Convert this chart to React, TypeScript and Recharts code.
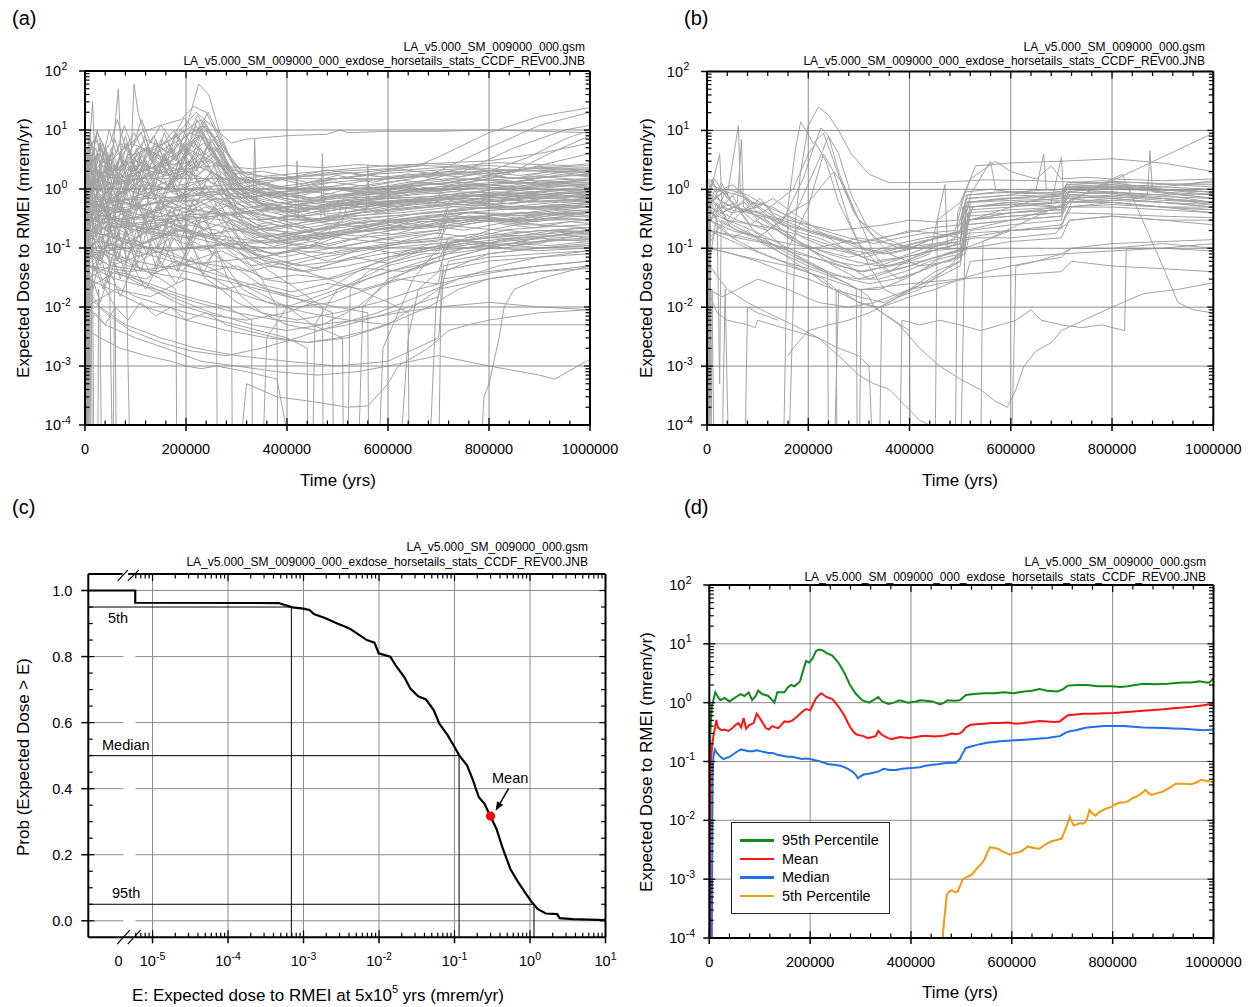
import React from 'react';
import { LineChart, Line, XAxis, YAxis, ReferenceLine, ReferenceDot, Legend } from 'recharts';

const FONT = "'Liberation Sans', Arial, Helvetica, sans-serif";
const TICK_FS = 14.5;
const HORSE = '#a3a3a3';
const GRID = '#8c8c8c';
const AX = { stroke: '#000', strokeWidth: 2 };

// ---------------- axis ticks ----------------
const timeTicks = [0, 200000, 400000, 600000, 800000, 1000000];
const timeGrid = [200000, 400000, 600000, 800000];
const timeMinor: number[] = [];
for (let t = 40000; t < 1000000; t += 40000) if (t % 200000 !== 0) timeMinor.push(t);

const doseTicks = [1e-4, 1e-3, 1e-2, 1e-1, 1, 10, 100];
const doseGrid = [1e-3, 1e-2, 1e-1, 1, 10];
const logMinor = (lo: number, hi: number) => {
  const out: number[] = [];
  for (let e = lo; e < hi; e++) for (let m = 2; m <= 9; m++) out.push(m * Math.pow(10, e));
  return out;
};
const doseMinor = logMinor(-4, 2);

// panel (c) axes
const eMin = 1.41e-6;
const eZero = 3.55e-6; // position of the "0" label left of the axis break
const eTicks = [eZero, 1e-5, 1e-4, 1e-3, 1e-2, 1e-1, 1, 10];
const eMajor = [1e-5, 1e-4, 1e-3, 1e-2, 1e-1, 1, 10];
const eGrid = [1e-5, 1e-4, 1e-3, 1e-2, 1e-1, 1];
const eMinor = [6e-6, 7e-6, 8e-6, 9e-6, ...logMinor(-5, 1)];
const probTicks = [0, 0.2, 0.4, 0.6, 0.8, 1.0];
const probMinor = [0.05, 0.1, 0.15, 0.25, 0.3, 0.35, 0.45, 0.5, 0.55, 0.65, 0.7, 0.75, 0.85, 0.9, 0.95];
const eGapLeft = 4.12e-6;
const eGapRight = 5.94e-6;
const eAxisGap = [4.0e-6, 4.75e-6];
const breakSlashes = [
  [3.46e-6, 1.029, 4.7e-6, 1.0616],
  [4.7e-6, 1.029, 6.58e-6, 1.0616],
  [3.4e-6, -0.0707, 5.0e-6, -0.0283],
  [4.7e-6, -0.0707, 6.93e-6, -0.0283],
];

// ---------------- panel (a) horsetails: [time kyr, dose mrem/yr] ----------------
const aPeaks = [
  [[2, 1e-5], [4, 3], [10, 8], [20, 2], [35, 6], [50, 1.5], [66, 50], [72, 3], [90, 2], [97, 60], [105, 20], [130, 4], [160, 2], [200, 1], [260, 0.6], [320, 0.4], [400, 0.3], [500, 0.3], [600, 0.35], [700, 0.4], [800, 0.5], [900, 0.5], [1000, 0.6]],
  [[3, 1e-5], [5, 2], [15, 30], [22, 1], [40, 5], [60, 2], [80, 8], [100, 2], [140, 6], [180, 3], [205, 15], [225, 60], [245, 40], [265, 10], [290, 3], [330, 1.5], [400, 1], [500, 0.8], [600, 0.9], [700, 1], [800, 1.2], [900, 1.3], [1000, 1.4]],
  [[4, 1e-5], [6, 5], [20, 7], [45, 3], [55, 1e-5], [60, 0.5], [75, 4], [110, 9], [150, 12], [190, 15], [215, 25], [240, 20], [270, 6], [300, 2], [350, 1.2], [400, 1], [500, 1.5], [600, 2], [700, 2.3], [800, 2.5], [900, 2.2], [1000, 2]],
  [[5, 1e-5], [8, 1], [40, 2], [100, 3], [180, 8], [220, 20], [260, 10], [290, 6], [320, 7], [400, 8], [480, 8.5], [505, 10], [520, 9], [600, 9.5], [700, 9.5], [800, 10], [900, 9.5], [1000, 9]],
  [[3, 1e-5], [5, 1.5], [25, 4], [60, 2], [110, 5], [170, 3], [230, 8], [280, 2], [340, 0.6], [450, 0.3], [550, 0.4], [650, 0.5], [750, 0.6], [850, 0.5], [1000, 0.5]],
  [[4, 1e-5], [6, 3], [30, 1], [70, 6], [120, 2], [180, 4], [240, 10], [280, 4], [320, 1.5], [380, 0.8], [480, 0.6], [580, 0.7], [680, 0.9], [780, 1.1], [880, 1], [1000, 1.2]],
  [[6, 1e-5], [9, 1.8], [40, 3], [75, 1], [115, 2.5], [165, 1.8], [215, 6], [265, 2.5], [315, 1], [395, 0.7], [495, 0.5], [595, 0.6], [695, 0.7], [795, 0.6], [895, 0.7], [1000, 0.65]],
  [[4, 1e-5], [6, 4], [25, 9], [50, 3], [90, 6], [140, 4], [190, 7], [235, 12], [275, 5], [310, 2], [370, 1.5], [470, 1.7], [570, 2], [670, 2.5], [770, 2.3], [870, 2], [1000, 2.2]],
  [[3, 1e-5], [5, 1], [40, 2], [100, 4], [160, 6], [200, 10], [230, 15], [255, 8], [280, 3], [310, 1], [360, 0.5], [450, 0.4], [550, 0.5], [650, 0.6], [750, 0.8], [850, 0.7], [1000, 0.8]],
  [[2, 1e-5], [4, 0.4], [50, 1], [110, 2], [170, 3], [210, 7], [240, 12], [265, 5], [295, 1.5], [340, 0.6], [430, 0.3], [530, 0.35], [630, 0.4], [730, 0.5], [830, 0.45], [1000, 0.5]],
  [[4, 1e-5], [6, 2], [30, 5], [70, 2], [120, 7], [170, 4], [205, 9], [245, 7], [275, 2], [300, 0.8], [360, 0.35], [460, 0.2], [560, 0.25], [660, 0.3], [760, 0.32], [860, 0.3], [1000, 0.3]],
];
const aRising = [
  [[5, 1e-5], [8, 0.3], [100, 0.5], [200, 0.8], [300, 1], [400, 1.5], [500, 2], [600, 2.2], [660, 2.5], [700, 3.5], [800, 9], [900, 17], [1000, 24]],
  [[6, 1e-5], [10, 0.4], [150, 0.6], [300, 0.7], [500, 1], [650, 1.5], [700, 2], [800, 5], [900, 12], [1000, 20]],
  [[3, 1e-5], [6, 0.2], [200, 0.3], [400, 0.5], [600, 1], [750, 2], [850, 5], [950, 10], [1000, 12]],
  [[4, 1e-5], [7, 0.5], [200, 1], [400, 1.5], [600, 1.5], [800, 2], [880, 3.5], [950, 7], [1000, 10]],
  [[3, 1e-5], [9, 0.6], [250, 0.8], [500, 1], [700, 1.2], [850, 2], [920, 4], [1000, 8]],
  [[2, 1e-5], [5, 1], [100, 1.5], [300, 1.5], [600, 2.5], [800, 3], [900, 4], [1000, 6]],
  [[2, 1e-5], [6, 0.3], [300, 0.4], [600, 0.8], [800, 1.5], [900, 2.5], [1000, 4]],
];
const aBand = [
  [[1, 1e-5], [3, 0.5], [20, 2], [50, 1], [100, 3], [150, 2], [200, 5], [250, 3], [300, 1], [400, 0.8], [500, 1], [600, 0.8], [700, 1], [800, 1.5], [900, 1.2], [1000, 1.5]],
  [[2, 1e-5], [4, 0.2], [30, 0.5], [80, 1], [130, 0.7], [200, 2], [260, 1.2], [330, 0.5], [420, 0.4], [520, 0.6], [620, 0.5], [720, 0.8], [820, 0.7], [920, 0.9], [1000, 0.8]],
  [[2, 1e-5], [4, 0.05], [40, 0.1], [100, 0.2], [160, 0.15], [220, 0.3], [300, 0.2], [380, 0.15], [460, 0.2], [560, 0.3], [660, 0.25], [760, 0.4], [860, 0.35], [1000, 0.4]],
  [[1, 1e-5], [3, 0.08], [30, 0.15], [90, 0.3], [150, 0.5], [210, 1], [270, 0.6], [340, 0.25], [430, 0.15], [530, 0.2], [630, 0.3], [730, 0.35], [830, 0.3], [930, 0.4], [1000, 0.35]],
  [[3, 1e-5], [5, 0.7], [35, 0.3], [80, 0.6], [140, 0.4], [190, 0.8], [250, 0.5], [310, 0.3], [400, 0.12], [500, 0.1], [600, 0.15], [700, 0.2], [800, 0.3], [900, 0.25], [1000, 0.3]],
  [[2, 1e-5], [4, 1.2], [50, 0.6], [100, 1.5], [160, 1], [230, 3], [290, 1], [360, 0.5], [450, 0.7], [550, 0.9], [650, 1.2], [750, 1.5], [850, 1.3], [950, 1.8], [1000, 1.6]],
  [[3, 1e-5], [6, 0.4], [40, 0.2], [90, 0.1], [140, 0.15], [200, 0.25], [260, 0.2], [340, 0.08], [420, 0.05], [500, 0.06], [600, 0.1], [700, 0.12], [800, 0.15], [900, 0.2], [1000, 0.18]],
  [[1, 1e-5], [2, 2], [20, 1], [60, 0.8], [120, 1.2], [180, 0.9], [240, 1.5], [300, 0.6], [333, 0.6], [336, 7], [340, 0.6], [380, 0.4], [480, 0.5], [580, 0.6], [680, 0.7], [780, 0.8], [880, 0.6], [1000, 0.7]],
  [[5, 1e-5], [8, 0.15], [60, 0.3], [110, 0.25], [170, 0.4], [230, 0.6], [290, 0.3], [360, 0.2], [440, 0.25], [540, 0.35], [640, 0.45], [740, 0.55], [840, 0.5], [940, 0.6], [1000, 0.55]],
  [[2, 1e-5], [4, 0.6], [30, 1.5], [80, 0.8], [130, 2], [190, 1.5], [250, 4], [300, 1.2], [370, 0.7], [460, 1], [560, 1.4], [660, 1.6], [760, 1.8], [860, 1.5], [960, 2], [1000, 1.8]],
  [[3, 1e-5], [5, 0.03], [50, 0.05], [120, 0.08], [200, 0.1], [280, 0.12], [360, 0.1], [450, 0.15], [550, 0.2], [650, 0.3], [750, 0.4], [850, 0.35], [1000, 0.45]],
  [[2, 1e-5], [3, 0.9], [25, 0.5], [70, 0.3], [125, 0.2], [180, 0.3], [240, 0.5], [300, 0.25], [380, 0.12], [470, 0.15], [570, 0.2], [670, 0.28], [770, 0.3], [870, 0.25], [1000, 0.22]],
  [[4, 1e-5], [7, 0.25], [45, 0.6], [95, 0.4], [150, 0.8], [210, 0.5], [270, 0.9], [330, 0.4], [410, 0.3], [467, 0.3], [470, 4], [474, 0.35], [510, 0.35], [610, 0.5], [710, 0.6], [810, 0.9], [910, 0.8], [1000, 1]],
  [[1, 1e-5], [3, 0.12], [35, 0.08], [85, 0.05], [145, 0.04], [205, 0.06], [265, 0.05], [325, 0.04], [405, 0.06], [505, 0.09], [605, 0.12], [705, 0.15], [805, 0.12], [905, 0.1], [1000, 0.11]],
  [[3, 1e-5], [5, 0.35], [55, 0.7], [105, 0.5], [155, 0.3], [215, 0.45], [275, 0.35], [335, 0.2], [415, 0.25], [515, 0.4], [557, 0.45], [560, 2.5], [563, 0.5], [615, 0.6], [715, 0.7], [815, 1], [915, 1.1], [1000, 1.2]],
  [[2, 1e-5], [4, 2.5], [20, 5], [45, 1.5], [85, 3], [135, 1.5], [195, 2], [255, 5], [305, 1.5], [385, 1], [485, 1.3], [585, 1.5], [685, 1.8], [785, 2], [885, 2.2], [1000, 2.3]],
  [[5, 1e-5], [7, 0.07], [60, 0.1], [130, 0.2], [200, 0.35], [270, 0.3], [350, 0.15], [440, 0.1], [540, 0.15], [640, 0.18], [700, 0.2], [720, 0.6], [800, 0.7], [900, 0.8], [1000, 0.9]],
  [[4, 1e-5], [6, 0.5], [30, 0.25], [80, 0.4], [140, 0.6], [200, 0.4], [260, 0.7], [320, 0.5], [400, 0.35], [417, 0.35], [420, 3], [423, 0.3], [500, 0.25], [600, 0.2], [700, 0.25], [800, 0.35], [900, 0.4], [1000, 0.5]],
  [[3, 1e-5], [5, 1], [40, 0.5], [100, 0.3], [160, 0.5], [220, 1], [280, 0.6], [340, 0.3], [420, 0.2], [500, 0.15], [600, 0.12], [700, 0.15], [720, 0.4], [800, 0.5], [900, 0.45], [1000, 0.5]],
  [[2, 1e-5], [4, 0.2], [60, 0.15], [120, 0.12], [180, 0.2], [240, 0.15], [300, 0.1], [380, 0.08], [460, 0.12], [520, 0.4], [600, 0.6], [700, 0.7], [800, 0.8], [900, 0.9], [1000, 1]],
  [[3, 1e-5], [5, 0.25], [30, 0.6], [70, 1.8], [110, 0.9], [160, 1.3], [220, 2.5], [270, 1.6], [330, 0.9], [410, 0.6], [510, 0.7], [610, 0.9], [710, 1.1], [810, 1.3], [910, 1.2], [1000, 1.3]],
  [[2, 1e-5], [4, 0.15], [40, 0.35], [90, 0.2], [150, 0.25], [210, 0.18], [270, 0.14], [330, 0.12], [420, 0.14], [520, 0.18], [620, 0.22], [720, 0.24], [820, 0.2], [920, 0.23], [1000, 0.25]],
  [[3, 1e-5], [4, 0.9], [60, 0.6], [150, 1], [250, 1.5], [330, 1.4], [380, 1.6], [440, 1.3], [500, 1.5], [560, 1.7], [620, 1.5], [680, 1.8], [740, 1.6], [800, 1.9], [860, 1.7], [930, 2], [1000, 1.9]],
  [[2, 1e-5], [3, 0.2], [70, 0.25], [160, 0.3], [260, 0.35], [340, 0.4], [400, 0.5], [460, 0.45], [520, 0.55], [580, 0.6], [640, 0.55], [700, 0.65], [760, 0.7], [820, 0.65], [880, 0.75], [940, 0.7], [1000, 0.8]],
  [[4, 1e-5], [5, 0.1], [80, 0.12], [170, 0.09], [260, 0.11], [340, 0.13], [400, 0.15], [470, 0.18], [540, 0.16], [610, 0.2], [680, 0.22], [750, 0.25], [820, 0.3], [890, 0.28], [960, 0.32], [1000, 0.3]],
  [[1, 1e-5], [2, 0.6], [60, 0.4], [150, 0.6], [250, 0.9], [320, 0.7], [390, 0.9], [460, 1.1], [530, 0.9], [600, 1.1], [670, 1.3], [740, 1.1], [810, 1.2], [880, 1.4], [950, 1.3], [1000, 1.4]],
  [[3, 1e-5], [4, 0.05], [90, 0.04], [180, 0.05], [270, 0.06], [350, 0.07], [420, 0.09], [490, 0.08], [560, 0.1], [630, 0.12], [700, 0.13], [720, 0.25], [790, 0.3], [860, 0.28], [930, 0.33], [1000, 0.35]],
  [[2, 1e-5], [3, 1.5], [70, 1.2], [160, 2], [260, 2.5], [330, 2.2], [400, 2.5], [470, 2.3], [540, 2.6], [610, 2.4], [680, 2.7], [750, 2.5], [820, 2.8], [890, 2.6], [960, 2.5], [1000, 2.7]],
  [[5, 1e-5], [6, 0.3], [100, 0.2], [200, 0.15], [300, 0.2], [370, 0.25], [440, 0.22], [510, 0.28], [520, 0.6], [590, 0.7], [660, 0.65], [730, 0.75], [800, 0.8], [870, 0.78], [940, 0.85], [1000, 0.82]],
  [[3, 1e-5], [4, 0.4], [80, 0.3], [170, 0.5], [260, 0.4], [340, 0.3], [410, 0.35], [480, 0.3], [550, 0.4], [620, 0.45], [690, 0.5], [710, 1.1], [780, 1.2], [850, 1.1], [920, 1.3], [1000, 1.25]],
  [[2, 1e-5], [3, 0.08], [90, 0.1], [190, 0.2], [290, 0.15], [370, 0.12], [440, 0.16], [510, 0.2], [580, 0.25], [650, 0.22], [720, 0.3], [790, 0.35], [860, 0.4], [930, 0.38], [1000, 0.42]],
  [[4, 1e-5], [5, 2], [60, 1.5], [150, 2.5], [240, 3], [320, 1.8], [380, 1.5], [450, 1.7], [520, 1.9], [590, 1.6], [660, 1.8], [730, 2], [800, 1.8], [870, 2.1], [940, 1.9], [1000, 2]],
];
const aWavy = [
  [[2, 1e-5], [3, 0.5], [40, 1.2], [90, 0.6], [140, 1.5], [200, 0.8], [260, 1.8], [320, 0.7], [380, 0.9], [450, 0.7], [520, 1], [590, 0.8], [660, 1.1], [730, 0.9], [800, 1.2], [870, 1], [940, 1.3], [1000, 1.1]],
  [[3, 1e-5], [4, 0.15], [45, 0.35], [100, 0.2], [160, 0.45], [220, 0.25], [280, 0.4], [340, 0.2], [400, 0.25], [460, 0.18], [530, 0.28], [600, 0.22], [670, 0.32], [740, 0.26], [810, 0.36], [880, 0.3], [950, 0.4], [1000, 0.35]],
  [[1, 1e-5], [2, 1], [35, 2.5], [85, 1.2], [135, 3], [195, 1.5], [255, 3.5], [310, 1.3], [370, 1.6], [430, 1.2], [500, 1.7], [570, 1.3], [640, 1.8], [710, 1.4], [780, 1.9], [850, 1.5], [920, 2], [1000, 1.7]],
  [[4, 1e-5], [5, 0.06], [50, 0.12], [110, 0.07], [170, 0.15], [230, 0.09], [290, 0.13], [350, 0.07], [410, 0.09], [480, 0.06], [550, 0.1], [620, 0.08], [690, 0.12], [760, 0.1], [830, 0.14], [900, 0.12], [970, 0.16], [1000, 0.14]],
  [[2, 1e-5], [3, 0.3], [30, 0.7], [80, 0.4], [130, 0.9], [185, 0.5], [245, 1.1], [305, 0.45], [365, 0.55], [425, 0.4], [495, 0.6], [565, 0.45], [635, 0.65], [705, 0.5], [775, 0.7], [845, 0.55], [915, 0.75], [1000, 0.6]],
  [[3, 1e-5], [4, 0.02], [60, 0.04], [120, 0.03], [180, 0.06], [240, 0.04], [300, 0.05], [360, 0.03], [420, 0.035], [490, 0.03], [560, 0.045], [630, 0.04], [700, 0.06], [720, 0.15], [790, 0.18], [860, 0.16], [930, 0.2], [1000, 0.19]],
  [[2, 1e-5], [3, 2], [25, 4], [70, 2], [120, 5], [175, 2.5], [235, 6], [290, 1.8], [350, 2], [410, 1.6], [480, 2.1], [550, 1.7], [620, 2.2], [690, 1.8], [760, 2.3], [830, 1.9], [900, 2.4], [1000, 2.1]],
  [[5, 1e-5], [6, 0.1], [55, 0.2], [115, 0.12], [175, 0.25], [235, 0.15], [295, 0.22], [355, 0.12], [415, 0.15], [485, 0.11], [555, 0.16], [625, 0.13], [695, 0.18], [765, 0.15], [835, 0.2], [905, 0.17], [975, 0.22], [1000, 0.2]],
  [[1, 1e-5], [2, 0.7], [30, 1.6], [75, 0.8], [125, 1.9], [180, 0.9], [240, 2.2], [300, 0.8], [360, 1], [420, 0.75], [490, 1.05], [560, 0.8], [630, 1.1], [700, 0.9], [770, 1.2], [840, 0.95], [910, 1.25], [1000, 1.05]],
  [[3, 1e-5], [4, 0.04], [40, 0.09], [95, 0.05], [150, 0.1], [210, 0.06], [270, 0.09], [330, 0.05], [390, 0.06], [460, 0.045], [530, 0.07], [600, 0.055], [670, 0.08], [700, 0.08], [715, 0.3], [780, 0.35], [850, 0.3], [920, 0.38], [1000, 0.33]],
  [[2, 1e-5], [3, 0.25], [50, 0.5], [110, 0.3], [170, 0.6], [230, 0.35], [290, 0.55], [350, 0.3], [410, 0.35], [470, 0.28], [500, 0.3], [512, 0.7], [580, 0.75], [650, 0.7], [720, 0.8], [790, 0.75], [860, 0.85], [930, 0.8], [1000, 0.9]],
  [[4, 1e-5], [5, 1.4], [35, 3], [80, 1.5], [130, 4], [185, 2], [245, 5], [300, 1.6], [360, 1.2], [420, 1], [490, 1.3], [560, 1.1], [630, 1.4], [700, 1.2], [770, 1.5], [840, 1.3], [910, 1.6], [1000, 1.4]],
  [[2, 1e-5], [3, 0.01], [60, 0.02], [130, 0.015], [200, 0.03], [270, 0.02], [340, 0.025], [410, 0.018], [480, 0.025], [550, 0.02], [620, 0.03], [690, 0.025], [700, 0.025], [712, 0.1], [780, 0.12], [850, 0.11], [920, 0.14], [1000, 0.13]],
  [[3, 1e-5], [4, 0.45], [40, 0.9], [95, 0.5], [150, 1.1], [210, 0.6], [270, 1], [330, 0.5], [390, 0.6], [450, 0.45], [520, 0.65], [590, 0.5], [660, 0.7], [730, 0.55], [800, 0.75], [870, 0.6], [940, 0.8], [1000, 0.7]],
  [[1, 1e-5], [2, 0.12], [45, 0.25], [100, 0.15], [160, 0.3], [220, 0.18], [280, 0.28], [340, 0.15], [400, 0.18], [470, 0.14], [540, 0.2], [610, 0.17], [680, 0.24], [750, 0.2], [820, 0.26], [890, 0.22], [960, 0.28], [1000, 0.26]],
];
const aJagged = [
  [[2, 1e-5], [3, 0.8], [12, 3], [20, 0.6], [32, 2], [45, 0.4], [58, 1.5], [72, 0.5], [88, 2.5], [104, 0.8], [120, 3], [138, 1], [156, 4], [175, 1.5], [195, 6], [215, 3], [235, 9], [255, 4], [275, 1.2], [300, 0.5], [350, 0.3], [420, 0.35], [500, 0.5], [580, 0.4], [660, 0.6], [740, 0.7], [820, 0.6], [900, 0.8], [1000, 0.7]],
  [[1, 1e-5], [2, 0.1], [10, 0.5], [22, 0.15], [36, 0.6], [50, 0.2], [66, 0.8], [82, 0.25], [98, 1], [115, 0.3], [132, 1.2], [150, 0.4], [170, 1.5], [190, 0.6], [210, 2], [232, 1], [255, 2.5], [280, 0.7], [310, 0.25], [360, 0.15], [440, 0.2], [520, 0.25], [600, 0.3], [680, 0.28], [760, 0.35], [840, 0.3], [920, 0.35], [1000, 0.4]],
  [[3, 1e-5], [4, 2], [14, 6], [26, 1.5], [40, 5], [55, 1], [70, 4], [86, 1.2], [102, 5], [120, 2], [140, 7], [160, 2.5], [180, 8], [200, 4], [222, 15], [244, 6], [266, 3], [290, 1], [330, 0.7], [400, 0.9], [480, 1.1], [560, 1], [640, 1.3], [720, 1.5], [800, 1.4], [880, 1.6], [1000, 1.7]],
  [[2, 1e-5], [3, 0.04], [15, 0.1], [30, 0.05], [48, 0.15], [64, 0.06], [80, 0.2], [100, 0.08], [120, 0.25], [142, 0.1], [165, 0.3], [188, 0.12], [210, 0.4], [236, 0.2], [260, 0.35], [290, 0.15], [330, 0.07], [400, 0.05], [470, 0.07], [550, 0.09], [630, 0.12], [710, 0.14], [790, 0.12], [870, 0.15], [1000, 0.17]],
  [[4, 1e-5], [5, 0.3], [16, 1], [28, 0.3], [42, 1.2], [58, 0.4], [74, 1.6], [90, 0.5], [108, 2], [126, 0.7], [146, 2.5], [166, 1], [186, 3], [208, 1.5], [228, 5], [250, 2], [272, 1.5], [300, 0.8], [350, 0.5], [420, 0.4], [490, 0.6], [570, 0.7], [650, 0.9], [730, 0.8], [810, 1], [890, 0.9], [1000, 1.1]],
  [[1, 1e-5], [2, 1.5], [9, 0.7], [19, 2.5], [31, 0.9], [44, 3.5], [60, 1.2], [76, 3], [94, 1], [112, 4], [130, 1.5], [150, 3], [172, 5], [196, 2], [218, 4], [240, 2.5], [264, 1], [290, 0.4], [330, 0.2], [380, 0.15], [450, 0.2], [530, 0.3], [610, 0.35], [690, 0.4], [770, 0.5], [850, 0.45], [930, 0.55], [1000, 0.5]],
  [[3, 1e-5], [4, 0.02], [20, 0.05], [36, 0.02], [54, 0.07], [70, 0.03], [90, 0.1], [110, 0.04], [130, 0.12], [152, 0.05], [176, 0.15], [200, 0.07], [226, 0.2], [252, 0.1], [280, 0.15], [310, 0.08], [360, 0.05], [430, 0.04], [510, 0.06], [590, 0.08], [670, 0.1], [750, 0.12], [830, 0.1], [910, 0.13], [1000, 0.14]],
  [[2, 1e-5], [3, 3], [11, 1], [24, 4], [38, 1.5], [52, 5], [68, 2], [84, 6], [100, 2], [118, 8], [136, 3], [156, 6], [176, 10], [198, 4], [220, 12], [242, 5], [262, 8], [284, 2.5], [310, 1.2], [360, 0.8], [430, 0.6], [510, 0.8], [590, 0.9], [670, 1.2], [750, 1.3], [830, 1.1], [910, 1.4], [1000, 1.5]],
  [[5, 1e-5], [6, 0.5], [18, 0.2], [32, 0.7], [46, 0.25], [62, 0.9], [78, 0.3], [96, 0.6], [114, 1.2], [134, 0.4], [154, 0.8], [174, 1.5], [196, 0.6], [218, 1.2], [240, 0.8], [262, 0.4], [290, 0.2], [330, 0.1], [390, 0.07], [460, 0.09], [540, 0.12], [620, 0.15], [700, 0.18], [720, 0.5], [800, 0.55], [880, 0.6], [1000, 0.65]],
  [[2, 1e-5], [3, 0.25], [13, 0.08], [27, 0.3], [41, 0.1], [57, 0.35], [73, 0.12], [91, 0.4], [109, 0.15], [127, 0.5], [147, 0.2], [168, 0.45], [190, 0.25], [212, 0.6], [236, 0.3], [258, 0.5], [282, 0.25], [310, 0.12], [370, 0.08], [440, 0.1], [520, 0.18], [600, 0.22], [680, 0.25], [760, 0.3], [840, 0.28], [920, 0.32], [1000, 0.3]],
  [[4, 1e-5], [5, 1], [17, 0.35], [30, 1.3], [44, 0.5], [60, 1.8], [76, 0.6], [94, 2.2], [112, 0.8], [132, 1.5], [152, 3], [174, 1.2], [196, 4], [220, 2], [244, 6], [268, 2.5], [292, 1], [330, 0.6], [400, 0.5], [480, 0.7], [560, 0.9], [640, 1.1], [720, 1.3], [800, 1.6], [880, 1.5], [1000, 1.8]],
  [[3, 1e-5], [4, 0.07], [14, 0.2], [28, 0.06], [42, 0.25], [58, 0.08], [74, 0.3], [92, 0.1], [110, 0.2], [130, 0.4], [150, 0.15], [172, 0.5], [194, 0.2], [216, 0.7], [240, 0.35], [264, 0.6], [288, 0.3], [320, 0.15], [380, 0.1], [450, 0.13], [530, 0.2], [610, 0.3], [690, 0.35], [770, 0.4], [850, 0.38], [930, 0.45], [1000, 0.42]],
  [[1, 1e-5], [2, 0.6], [8, 1.8], [18, 0.5], [30, 2], [44, 0.7], [60, 2.5], [78, 0.8], [96, 3], [116, 1], [136, 2], [158, 3.5], [180, 1.5], [202, 5], [226, 2.5], [250, 7], [272, 3], [296, 1.2], [340, 0.6], [410, 0.45], [490, 0.55], [570, 0.65], [650, 0.8], [730, 0.9], [810, 0.85], [890, 1], [1000, 0.95]],
  [[2, 1e-5], [3, 0.15], [12, 0.4], [26, 0.12], [40, 0.5], [56, 0.15], [72, 0.45], [90, 0.18], [108, 0.6], [128, 0.22], [148, 0.7], [170, 0.3], [192, 0.9], [214, 0.4], [238, 1.2], [262, 0.5], [286, 0.8], [310, 0.35], [360, 0.2], [430, 0.18], [510, 0.25], [590, 0.3], [670, 0.4], [750, 0.45], [830, 0.5], [910, 0.48], [1000, 0.55]],
  [[3, 1e-5], [4, 4], [15, 1.5], [29, 6], [43, 2], [59, 7], [75, 2.5], [93, 5], [111, 9], [131, 3], [151, 7], [171, 4], [193, 10], [215, 5], [237, 14], [259, 6], [281, 3], [305, 1.5], [350, 1], [420, 1.2], [500, 1.5], [580, 1.8], [660, 2], [740, 2.2], [820, 2], [900, 2.3], [1000, 2.5]],
  [[5, 1e-5], [6, 0.12], [20, 0.04], [34, 0.15], [50, 0.05], [66, 0.18], [84, 0.06], [102, 0.2], [122, 0.08], [142, 0.25], [164, 0.1], [186, 0.3], [208, 0.12], [232, 0.35], [256, 0.15], [280, 0.1], [310, 0.06], [350, 0.03], [410, 0.025], [480, 0.03], [560, 0.05], [640, 0.08], [720, 0.12], [800, 0.15], [880, 0.14], [1000, 0.16]],
  [[2, 1e-5], [3, 2], [10, 5], [21, 1.2], [35, 4], [49, 1.5], [65, 3], [81, 6], [99, 2], [117, 5], [137, 2.5], [157, 9], [179, 3], [201, 7], [223, 18], [245, 8], [267, 4], [289, 1.8], [320, 0.9], [380, 0.6], [450, 0.5], [530, 0.6], [610, 0.7], [690, 0.75], [770, 0.9], [850, 0.8], [930, 0.95], [1000, 0.9]],
  [[4, 1e-5], [5, 0.45], [16, 1.5], [30, 0.5], [46, 1.1], [62, 0.4], [80, 1.4], [98, 0.5], [118, 1.8], [138, 0.7], [160, 2.2], [182, 0.9], [204, 3], [228, 1.2], [252, 2], [276, 0.9], [300, 0.4], [340, 0.25], [400, 0.3], [470, 0.4], [550, 0.55], [630, 0.6], [710, 0.65], [790, 0.8], [870, 0.75], [950, 0.85], [1000, 0.8]],
  [[1, 1e-5], [2, 0.3], [11, 0.9], [23, 0.3], [37, 0.8], [53, 0.25], [69, 0.7], [87, 0.22], [105, 0.6], [125, 0.2], [145, 0.5], [167, 0.18], [189, 0.45], [211, 0.15], [235, 0.4], [259, 0.12], [285, 0.3], [315, 0.1], [370, 0.05], [440, 0.04], [520, 0.05], [600, 0.07], [680, 0.09], [760, 0.1], [840, 0.12], [920, 0.11], [1000, 0.13]],
  [[3, 1e-5], [4, 1.2], [13, 3], [25, 0.8], [39, 2.5], [53, 0.9], [69, 3.5], [85, 1.2], [103, 4], [121, 1.4], [141, 5], [161, 1.8], [183, 6], [205, 2.5], [229, 8], [253, 3.5], [277, 2], [300, 1], [340, 0.7], [400, 0.55], [470, 0.5], [550, 0.6], [630, 0.65], [710, 0.7], [790, 0.6], [870, 0.7], [1000, 0.75]],
];
const aExtra = [
  [[2, 1e-5], [3, 0.01], [15, 0.03], [30, 0.012], [50, 0.04], [70, 0.015], [95, 0.05], [120, 0.02], [150, 0.06], [180, 0.025], [210, 0.07], [240, 0.03], [270, 0.02], [300, 0.012], [350, 0.008], [420, 0.006], [500, 0.008], [580, 0.012], [660, 0.02], [740, 0.03], [820, 0.04], [900, 0.05], [1000, 0.06]],
  [[3, 1e-5], [4, 5], [12, 2], [22, 8], [34, 3], [48, 10], [62, 4], [78, 12], [94, 5], [112, 15], [130, 6], [150, 12], [172, 7], [196, 16], [220, 9], [244, 20], [266, 8], [290, 3], [320, 1.2], [370, 0.8], [450, 0.7], [550, 0.8], [650, 0.9], [750, 1], [850, 1.1], [1000, 1.2]],
  [[1, 1e-5], [2, 0.5], [10, 0.2], [20, 0.6], [32, 0.18], [46, 0.5], [62, 0.15], [80, 0.45], [100, 0.12], [122, 0.4], [146, 0.1], [170, 0.35], [196, 0.09], [222, 0.3], [250, 0.08], [278, 0.06], [310, 0.04], [360, 0.02], [420, 0.015], [480, 0.02], [540, 0.04], [600, 0.07], [680, 0.1], [760, 0.14], [840, 0.18], [920, 0.2], [1000, 0.22]],
  [[4, 1e-5], [5, 3], [14, 1], [26, 3.5], [38, 1.1], [52, 4], [68, 1.3], [86, 4.5], [104, 1.5], [124, 5], [144, 1.8], [166, 6], [190, 2.2], [214, 7], [238, 3], [262, 5], [286, 2], [310, 0.9], [360, 0.5], [430, 0.35], [510, 0.4], [590, 0.5], [670, 0.6], [750, 0.55], [830, 0.65], [910, 0.6], [1000, 0.7]],
  [[2, 1e-5], [3, 0.06], [16, 0.02], [30, 0.08], [46, 0.025], [64, 0.09], [84, 0.03], [106, 0.1], [130, 0.035], [156, 0.11], [182, 0.04], [208, 0.12], [234, 0.05], [260, 0.09], [286, 0.04], [312, 0.02], [360, 0.012], [420, 0.01], [490, 0.012], [560, 0.02], [630, 0.03], [700, 0.04], [720, 0.12], [800, 0.15], [900, 0.17], [1000, 0.2]],
  [[3, 1e-5], [4, 1.8], [11, 0.6], [24, 2.2], [37, 0.7], [51, 2.6], [67, 0.8], [83, 3], [101, 1], [119, 3.4], [139, 1.2], [159, 3.8], [181, 1.4], [203, 4.5], [227, 1.8], [251, 3], [275, 1.2], [300, 0.6], [340, 0.35], [400, 0.25], [470, 0.3], [540, 0.4], [610, 0.45], [680, 0.5], [750, 0.6], [820, 0.55], [900, 0.65], [1000, 0.6]],
  [[1, 1e-5], [2, 0.2], [9, 0.08], [21, 0.25], [35, 0.07], [49, 0.22], [65, 0.06], [83, 0.2], [101, 0.05], [121, 0.18], [141, 0.045], [163, 0.16], [185, 0.04], [209, 0.15], [233, 0.035], [259, 0.1], [283, 0.03], [310, 0.015], [350, 0.008], [400, 0.005], [460, 0.004], [520, 0.005], [580, 0.007], [640, 0.01], [700, 0.015], [710, 0.05], [800, 0.07], [900, 0.08], [1000, 0.09]],
  [[5, 1e-5], [6, 8], [13, 3], [24, 10], [36, 4], [50, 6], [64, 15], [80, 5], [98, 9], [116, 4], [136, 8], [158, 3], [180, 9], [204, 4], [226, 11], [248, 5], [270, 2.5], [296, 1.2], [330, 0.7], [390, 0.5], [460, 0.45], [540, 0.5], [620, 0.6], [700, 0.7], [780, 0.8], [860, 0.75], [940, 0.85], [1000, 0.8]],
  [[2, 1e-5], [3, 0.9], [12, 0.35], [25, 1], [39, 0.4], [54, 1.1], [70, 0.4], [88, 1.2], [106, 0.45], [126, 1.3], [146, 0.5], [168, 1.4], [190, 0.6], [214, 1.8], [238, 0.8], [262, 1.4], [286, 0.6], [312, 0.3], [360, 0.18], [430, 0.15], [510, 0.2], [590, 0.28], [670, 0.35], [750, 0.4], [830, 0.45], [910, 0.5], [1000, 0.55]],
  [[3, 1e-5], [4, 0.004], [20, 0.008], [40, 0.005], [60, 0.01], [85, 0.006], [110, 0.012], [140, 0.007], [170, 0.01], [200, 0.006], [240, 0.008], [280, 0.005], [320, 0.004], [380, 0.003], [440, 0.0025], [500, 0.003], [560, 0.004], [620, 0.006], [680, 0.01], [740, 0.02], [800, 0.03], [900, 0.04], [1000, 0.045]],
  [[2, 1e-5], [4, 0.1], [100, 0.06], [200, 0.04], [300, 0.025], [400, 0.015], [500, 0.01], [560, 0.008], [562, 1e-5]],
  [[3, 1e-5], [5, 0.3], [150, 0.2], [300, 0.1], [400, 0.05], [480, 0.03], [540, 0.02], [600, 0.012], [640, 0.008], [642, 1e-5]],
  [[2, 1e-5], [4, 0.05], [100, 0.03], [200, 0.015], [280, 0.01], [330, 0.006], [332, 1e-5]],
  [[4, 1e-5], [6, 0.15], [120, 0.08], [240, 0.04], [360, 0.02], [440, 0.012], [490, 0.008], [492, 1e-5]],
  [[520, 1e-5], [525, 0.02], [560, 0.04], [650, 0.08], [750, 0.12], [850, 0.15], [1000, 0.18]],
  [[700, 1e-5], [705, 0.02], [720, 0.06], [800, 0.08], [900, 0.1], [1000, 0.11]],
];
const aLow = [
  [[3, 1e-5], [5, 0.02], [30, 0.01], [80, 0.005], [150, 0.003], [220, 0.002], [300, 0.0015], [400, 0.0012], [500, 0.001], [600, 0.0012], [700, 0.003], [710, 0.03], [800, 0.04], [900, 0.05], [1000, 0.06]],
  [[2, 1e-5], [4, 0.01], [40, 0.005], [100, 0.003], [160, 0.002], [230, 0.0012], [300, 0.001], [380, 0.0008], [460, 0.0007], [540, 0.0008], [600, 0.001], [700, 0.0015], [800, 0.001], [900, 0.0007], [930, 0.0006], [1000, 0.0013]],
  [[3, 1e-5], [5, 0.03], [50, 0.02], [120, 0.01], [200, 0.006], [280, 0.004], [360, 0.003], [440, 0.0025], [520, 0.003], [600, 0.005], [650, 0.01], [700, 0.02], [800, 0.03], [900, 0.04], [1000, 0.05]],
  [[4, 1e-5], [6, 0.05], [60, 0.03], [140, 0.02], [220, 0.012], [300, 0.008], [380, 0.006], [460, 0.005], [540, 0.006], [620, 0.008], [700, 0.01], [800, 0.012], [900, 0.01], [1000, 0.009]],
  [[2, 1e-5], [4, 0.08], [50, 0.05], [120, 0.04], [200, 0.03], [280, 0.02], [360, 0.012], [440, 0.008], [520, 0.006], [600, 0.005], [680, 0.005], [760, 0.005], [850, 0.005], [1000, 0.005]],
  [[5, 1e-5], [7, 0.015], [40, 0.008], [90, 0.004], [150, 0.0025], [210, 0.0018], [280, 0.0015], [350, 0.002], [420, 0.003], [500, 0.005], [580, 0.008], [660, 0.015], [740, 0.03], [820, 0.05], [900, 0.07], [1000, 0.09]],
  [[3, 1e-5], [5, 0.004], [30, 0.003], [70, 0.002], [120, 0.0015], [170, 0.0012], [200, 0.001], [230, 0.0009], [260, 0.001], [320, 0.0008], [380, 0.0006], [420, 1e-5]],
  [[300, 1e-5], [320, 0.0005], [380, 0.0003], [450, 0.00025], [520, 0.0002], [560, 0.00021], [600, 0.0005], [620, 0.001], [680, 0.002], [720, 0.004], [760, 0.005], [800, 0.006], [900, 0.008], [1000, 0.009]],
  [[2, 1e-5], [4, 0.2], [50, 0.06], [100, 0.03], [170, 0.015], [250, 0.008], [330, 0.005], [400, 0.004], [470, 0.005], [540, 0.01], [610, 0.03], [680, 0.06], [750, 0.1], [850, 0.12], [1000, 0.15]],
  [[6, 1e-5], [8, 0.1], [60, 0.04], [130, 0.02], [200, 0.01], [260, 0.007], [320, 0.006], [400, 0.008], [480, 0.015], [560, 0.03], [640, 0.05], [720, 0.08], [800, 0.1], [900, 0.09], [1000, 0.1]],
];
const aDrops = [
  [[2, 1e-5], [4, 0.3], [50, 0.1], [100, 0.05], [150, 0.03], [180, 0.02], [182, 1e-5]],
  [[3, 1e-5], [5, 0.5], [60, 0.3], [120, 0.2], [200, 0.15], [260, 0.08], [262, 1e-5]],
  [[4, 1e-5], [6, 0.15], [40, 0.02], [60, 0.01], [62, 1e-5]],
  [[2, 1e-5], [4, 1], [30, 0.5], [80, 0.2], [90, 1e-5]],
  [[5, 1e-5], [7, 0.8], [100, 0.5], [200, 0.3], [300, 0.1], [350, 0.03], [380, 0.01], [382, 1e-5]],
  [[3, 1e-5], [6, 0.04], [100, 0.015], [200, 0.008], [300, 0.005], [400, 0.003], [440, 0.002], [442, 1e-5]],
  [[2, 1e-5], [4, 0.6], [150, 0.3], [250, 0.15], [350, 0.05], [420, 0.02], [470, 0.01], [472, 1e-5]],
  [[3, 1e-5], [5, 0.2], [120, 0.1], [240, 0.05], [330, 0.02], [400, 0.01], [450, 0.005], [510, 0.003], [512, 1e-5]],
  [[10, 1e-5], [12, 0.03], [15, 1e-5]],
  [[25, 1e-5], [27, 0.02], [30, 0.005], [33, 1e-5]],
  [[8, 1e-5], [10, 10], [14, 0.5], [18, 1e-5]],
  [[3, 1e-5], [5, 0.3], [70, 0.15], [150, 0.08], [230, 0.04], [290, 0.02], [292, 1e-5]],
];
const aLate = [
  [[450, 1e-5], [455, 0.005], [500, 0.02], [600, 0.05], [700, 0.08], [800, 0.12], [900, 0.15], [1000, 0.2]],
  [[540, 1e-5], [550, 0.01], [600, 0.03], [700, 0.06], [800, 0.1], [900, 0.15], [1000, 0.2]],
  [[620, 1e-5], [640, 0.003], [660, 0.02], [700, 0.04], [800, 0.06], [900, 0.07], [1000, 0.08]],
  [[680, 1e-5], [695, 0.01], [710, 0.04], [800, 0.08], [900, 0.1], [1000, 0.12]],
  [[780, 1e-5], [790, 0.0003], [800, 0.0005], [820, 0.003], [830, 0.01], [850, 0.02], [900, 0.03], [1000, 0.05]],
  [[580, 1e-5], [590, 0.002], [610, 0.005], [650, 0.03], [700, 0.1], [800, 0.2], [900, 0.3], [1000, 0.4]],
  [[350, 1e-5], [360, 0.003], [400, 0.01], [500, 0.02], [600, 0.04], [700, 0.06], [800, 0.1], [900, 0.15], [1000, 0.2]],
];

// ---------------- panel (b) horsetails ----------------
const bHumps = [
  [[160, 1e-5], [175, 0.3], [185, 2], [200, 12], [220, 25], [240, 18], [260, 10], [285, 4], [320, 1.8], [360, 1.3], [450, 1.3], [550, 1.45], [650, 1.4], [750, 1.3], [850, 1.3], [950, 1.2], [1000, 1.2]],
  [[150, 1e-5], [160, 0.5], [175, 5], [185, 14], [195, 10], [210, 6], [230, 9], [245, 4], [270, 1], [300, 0.3], [350, 0.15], [400, 0.1], [450, 0.15], [500, 0.2], [510, 0.6], [600, 0.7], [700, 0.8], [710, 1.2], [800, 1.1], [900, 0.9], [1000, 0.8]],
  [[3, 1e-5], [5, 0.3], [50, 0.2], [100, 0.15], [150, 0.3], [190, 1.5], [210, 5], [225, 11], [240, 8], [260, 2], [290, 0.4], [330, 0.15], [380, 0.1], [450, 0.12], [508, 0.15], [512, 0.8], [600, 0.9], [700, 1], [800, 1.1], [900, 0.9], [1000, 0.7]],
  [[2, 1e-5], [4, 0.5], [60, 0.3], [120, 0.2], [180, 0.5], [220, 3], [240, 8], [260, 4], [285, 0.8], [320, 0.2], [360, 0.08], [420, 0.05], [480, 0.06], [510, 0.1], [520, 0.5], [600, 0.6], [700, 0.7], [720, 1], [800, 1.2], [900, 1], [1000, 0.9]],
  [[4, 1e-5], [6, 0.8], [50, 0.5], [110, 0.4], [170, 1], [200, 4], [215, 6], [235, 3], [260, 0.6], [300, 0.12], [340, 0.05], [380, 0.03], [420, 0.04], [470, 0.08], [510, 0.1], [515, 0.4], [600, 0.45], [700, 0.5], [710, 0.7], [800, 0.6], [900, 0.5], [1000, 0.5]],
  [[3, 1e-5], [5, 0.2], [80, 0.15], [160, 0.1], [200, 0.5], [230, 4], [250, 2], [280, 0.3], [320, 0.05], [350, 0.02], [380, 0.015], [420, 0.02], [480, 0.05], [510, 0.1], [600, 0.2], [700, 0.25], [720, 0.6], [800, 0.6], [900, 0.5], [1000, 0.45]],
  [[2, 1e-5], [4, 1], [30, 0.6], [80, 0.4], [140, 0.3], [200, 0.6], [250, 2], [270, 1.2], [300, 0.3], [330, 0.08], [360, 0.04], [400, 0.05], [450, 0.07], [505, 0.1], [510, 0.3], [600, 0.35], [700, 0.4], [705, 1], [800, 0.9], [900, 0.8], [1000, 0.6]],
];
const bEarly = [
  [[2, 1e-5], [4, 1.5], [20, 1], [40, 0.8], [62, 12], [66, 0.8], [100, 0.5], [150, 0.2], [200, 0.1], [250, 0.06], [300, 0.05], [350, 0.06], [420, 0.08], [500, 0.12], [510, 0.6], [600, 0.7], [700, 0.65], [710, 1.2], [800, 1.3], [900, 1], [1000, 0.9]],
  [[3, 1e-5], [5, 0.8], [25, 4], [30, 0.5], [60, 0.6], [68, 7], [72, 0.5], [110, 0.3], [160, 0.15], [220, 0.08], [280, 0.05], [320, 0.03], [360, 0.04], [420, 0.08], [490, 0.15], [512, 0.7], [600, 0.8], [700, 0.75], [712, 1], [800, 1.05], [900, 1], [1000, 0.8]],
  [[2, 1e-5], [3, 0.3], [30, 0.5], [70, 0.4], [110, 0.6], [140, 0.3], [190, 0.15], [240, 0.1], [290, 0.08], [330, 0.06], [380, 0.07], [430, 0.1], [480, 0.12], [515, 0.3], [600, 0.4], [700, 0.45], [710, 0.7], [800, 0.8], [900, 0.7], [1000, 0.6]],
  [[4, 1e-5], [6, 1.2], [40, 0.9], [80, 0.7], [120, 0.4], [160, 0.25], [200, 0.2], [250, 0.15], [300, 0.1], [350, 0.08], [400, 0.1], [450, 0.15], [505, 0.2], [520, 0.8], [560, 3], [570, 1], [600, 0.9], [700, 0.8], [720, 1.3], [800, 1.2], [900, 1.1], [1000, 1]],
  [[3, 1e-5], [5, 0.15], [40, 0.3], [90, 0.2], [140, 0.1], [190, 0.06], [240, 0.04], [280, 0.03], [320, 0.025], [370, 0.03], [420, 0.04], [470, 0.06], [510, 0.08], [520, 0.2], [600, 0.25], [700, 0.3], [705, 0.5], [800, 0.55], [900, 0.5], [1000, 0.45]],
  [[2, 1e-5], [4, 0.05], [20, 0.4], [50, 0.25], [100, 0.15], [150, 0.08], [200, 0.04], [250, 0.02], [300, 0.012], [340, 0.01], [380, 0.015], [440, 0.03], [500, 0.06], [512, 0.15], [600, 0.2], [700, 0.22], [720, 0.3], [800, 0.35], [900, 0.3], [1000, 0.3]],
  [[5, 1e-5], [7, 0.6], [50, 0.4], [100, 0.5], [130, 0.7], [170, 0.4], [220, 0.2], [270, 0.1], [310, 0.07], [360, 0.09], [410, 0.12], [460, 0.15], [500, 0.18], [520, 0.7], [600, 0.8], [650, 1], [665, 4], [670, 1], [700, 0.9], [720, 1.1], [800, 1], [900, 0.95], [1000, 1]],
  [[3, 1e-5], [5, 0.2], [60, 0.15], [120, 0.12], [180, 0.08], [240, 0.06], [300, 0.04], [360, 0.05], [420, 0.06], [480, 0.08], [520, 0.1], [600, 0.13], [700, 0.15], [715, 0.3], [800, 0.35], [900, 0.3], [1000, 0.25]],
  [[2, 1e-5], [4, 0.8], [30, 0.4], [75, 0.6], [100, 0.3], [130, 0.15], [170, 0.08], [210, 0.05], [260, 0.03], [300, 0.02], [340, 0.02], [390, 0.03], [440, 0.05], [500, 0.07], [515, 0.25], [600, 0.3], [700, 0.35], [710, 0.8], [800, 0.9], [870, 0.8], [875, 4.5], [880, 0.9], [1000, 0.7]],
  [[4, 1e-5], [6, 0.1], [50, 0.08], [100, 0.06], [150, 0.04], [200, 0.03], [250, 0.02], [300, 0.015], [350, 0.012], [400, 0.02], [450, 0.04], [500, 0.06], [515, 0.3], [600, 0.4], [700, 0.5], [710, 0.9], [800, 1.1], [900, 1.2], [1000, 1.3]],
  [[3, 1e-5], [5, 0.4], [40, 0.3], [90, 0.25], [150, 0.2], [200, 0.15], [260, 0.1], [310, 0.07], [350, 0.05], [400, 0.06], [440, 0.08], [470, 1.2], [475, 0.1], [510, 0.15], [520, 0.6], [600, 0.65], [680, 0.6], [700, 3.5], [705, 0.6], [800, 0.7], [900, 0.6], [1000, 0.5]],
  [[1, 1e-5], [3, 0.5], [20, 0.3], [60, 0.2], [110, 0.15], [160, 0.12], [210, 0.1], [260, 0.12], [300, 0.15], [360, 0.12], [420, 0.1], [480, 0.12], [530, 0.15], [600, 0.15], [690, 0.18], [720, 0.5], [800, 0.5], [900, 0.45], [1000, 0.4]],
  [[2, 1e-5], [4, 0.3], [50, 0.5], [100, 0.4], [150, 0.3], [200, 0.2], [250, 0.15], [300, 0.12], [350, 0.15], [400, 0.2], [450, 0.18], [500, 0.15], [520, 0.3], [600, 0.5], [660, 0.7], [700, 0.6], [720, 1], [800, 0.9], [900, 0.8], [1000, 0.85]],
  [[5, 1e-5], [7, 0.6], [40, 1], [80, 0.8], [120, 0.5], [180, 0.3], [230, 0.2], [280, 0.15], [330, 0.12], [380, 0.15], [430, 0.18], [490, 0.2], [510, 0.9], [560, 1], [600, 0.9], [700, 0.85], [710, 1.1], [800, 1], [900, 1.1], [1000, 1.4]],
  [[3, 1e-5], [5, 1], [15, 1.5], [40, 0.7], [90, 0.3], [140, 0.2], [190, 0.12], [240, 0.08], [290, 0.06], [340, 0.05], [390, 0.07], [440, 0.09], [500, 0.1], [505, 0.5], [600, 0.55], [700, 0.6], [710, 0.9], [800, 0.85], [900, 0.7], [1000, 0.55]],
  [[2, 1e-5], [4, 0.6], [30, 0.9], [60, 0.5], [100, 0.35], [150, 0.2], [200, 0.1], [250, 0.05], [300, 0.03], [340, 0.03], [390, 0.04], [440, 0.06], [500, 0.08], [510, 0.25], [600, 0.3], [700, 0.35], [710, 0.5], [800, 0.6], [900, 0.5], [1000, 0.4]],
  [[1, 1e-5], [2, 0.8], [10, 1.5], [20, 0.9], [50, 1.2], [90, 0.6], [130, 0.5], [170, 0.3], [210, 0.2], [260, 0.15], [310, 0.1], [360, 0.08], [410, 0.1], [460, 0.12], [500, 0.13], [515, 0.5], [600, 0.55], [700, 0.5], [715, 0.8], [800, 0.75], [900, 0.65], [1000, 0.6]],
  [[2, 1e-5], [3, 0.4], [15, 1], [30, 0.5], [50, 0.8], [70, 0.4], [90, 0.6], [120, 0.35], [150, 0.25], [190, 0.2], [240, 0.15], [290, 0.12], [340, 0.15], [390, 0.18], [440, 0.22], [500, 0.25], [515, 0.6], [580, 0.7], [640, 0.75], [700, 0.7], [712, 1.1], [780, 1.15], [850, 1.05], [920, 0.95], [1000, 0.9]],
  [[3, 1e-5], [4, 0.25], [20, 0.6], [40, 0.3], [60, 0.5], [85, 0.25], [110, 0.35], [140, 0.2], [180, 0.12], [230, 0.09], [280, 0.07], [330, 0.09], [380, 0.12], [430, 0.15], [480, 0.17], [510, 0.2], [520, 0.45], [600, 0.5], [660, 0.55], [700, 0.5], [715, 0.75], [800, 0.7], [900, 0.6], [1000, 0.55]],
  [[1, 1e-5], [2, 1], [12, 0.6], [28, 1.3], [45, 0.7], [65, 1], [85, 0.5], [105, 0.7], [130, 0.4], [160, 0.3], [200, 0.25], [250, 0.2], [300, 0.22], [350, 0.25], [400, 0.3], [450, 0.28], [500, 0.3], [515, 0.8], [570, 0.9], [630, 0.85], [700, 0.9], [712, 1.3], [780, 1.4], [850, 1.3], [920, 1.2], [1000, 1.1]],
  [[4, 1e-5], [5, 0.12], [25, 0.25], [50, 0.15], [80, 0.2], [110, 0.12], [150, 0.08], [200, 0.05], [250, 0.035], [300, 0.03], [350, 0.04], [400, 0.05], [450, 0.07], [500, 0.09], [515, 0.18], [600, 0.2], [700, 0.22], [710, 0.4], [800, 0.38], [900, 0.35], [1000, 0.33]],
  [[2, 1e-5], [3, 0.7], [18, 0.4], [36, 0.9], [55, 0.5], [78, 0.7], [100, 0.4], [130, 0.3], [170, 0.2], [220, 0.15], [270, 0.1], [320, 0.08], [370, 0.1], [420, 0.13], [470, 0.16], [510, 0.2], [525, 0.5], [590, 0.6], [650, 0.55], [705, 0.6], [715, 0.9], [800, 0.85], [900, 0.75], [1000, 0.7]],
  [[3, 1e-5], [4, 0.35], [22, 0.5], [44, 0.25], [66, 0.4], [92, 0.2], [120, 0.15], [160, 0.1], [210, 0.07], [260, 0.05], [310, 0.04], [360, 0.05], [410, 0.07], [460, 0.1], [505, 0.12], [512, 0.35], [600, 0.4], [700, 0.45], [708, 0.6], [800, 0.65], [900, 0.6], [1000, 0.5]],
];
const bLow = [
  [[5, 1e-5], [7, 0.015], [20, 0.008], [40, 0.006], [60, 0.0055], [80, 0.005], [95, 0.0045], [100, 0.006], [130, 0.005], [170, 0.004], [220, 0.003], [260, 0.002], [300, 0.0015], [320, 0.001], [330, 1e-5]],
  [[3, 1e-5], [5, 0.05], [40, 0.02], [80, 0.012], [120, 0.008], [170, 0.005], [220, 0.003], [260, 0.0015], [300, 0.0007], [330, 0.0005], [360, 0.0004], [400, 0.00018], [420, 0.00012], [440, 0.0001], [445, 1e-5]],
  [[250, 1e-5], [260, 0.02], [300, 0.012], [330, 0.01], [380, 0.005], [420, 0.002], [460, 0.001], [500, 0.0006], [540, 0.0004], [570, 0.00025], [593, 0.0002], [610, 0.0004], [626, 0.001], [650, 0.0018], [680, 0.0025], [700, 0.004], [744, 0.006], [800, 0.01], [862, 0.017], [930, 0.02], [1000, 0.026]],
  [[380, 1e-5], [385, 0.006], [420, 0.005], [460, 0.006], [500, 0.005], [540, 0.004], [580, 0.005], [610, 0.006], [640, 0.009], [660, 0.006], [700, 0.005], [740, 0.0045], [780, 0.005], [825, 0.004], [828, 0.1], [900, 0.1], [1000, 0.09]],
  [[340, 1e-5], [345, 0.01], [400, 0.015], [450, 0.02], [500, 0.03], [550, 0.04], [600, 0.05], [650, 0.06], [700, 0.07], [720, 0.1], [800, 0.1], [900, 0.12], [1000, 0.1]],
  [[500, 1e-5], [510, 0.2], [600, 0.3], [700, 0.5], [760, 1], [800, 1.5], [820, 1.8], [860, 0.3], [900, 0.05], [930, 0.012], [960, 0.009], [1000, 0.008]],
  [[300, 1e-5], [305, 0.02], [400, 0.025], [500, 0.03], [600, 0.035], [700, 0.04], [720, 0.06], [800, 0.05], [900, 0.045], [1000, 0.04]],
  [[2, 1e-5], [4, 0.02], [30, 0.015], [60, 0.02], [100, 0.03], [160, 0.02], [220, 0.012], [280, 0.01], [330, 0.012], [400, 0.02], [460, 0.025], [510, 0.03], [520, 0.06], [600, 0.07], [700, 0.08], [720, 0.1], [800, 0.12], [900, 0.13], [1000, 0.14]],
  [[160, 0.0015], [170, 0.002], [200, 0.004], [240, 0.005], [280, 0.006], [320, 0.008], [360, 0.012], [400, 0.02], [450, 0.03], [500, 0.05], [515, 0.3], [600, 0.35], [700, 0.4], [720, 0.7], [800, 0.75], [900, 0.7], [1000, 0.6]],
  [[600, 1e-5], [610, 0.05], [650, 0.06], [700, 0.08], [800, 0.09], [900, 0.1], [1000, 0.12]],
];
const bDrops = [
  [[3, 1e-5], [5, 0.5], [20, 0.3], [25, 0.0005], [28, 0.3], [60, 0.2], [100, 0.15], [150, 0.1], [200, 0.06], [238, 0.04], [240, 1e-5]],
  [[4, 1e-5], [6, 0.3], [50, 0.15], [110, 0.08], [170, 0.05], [230, 0.03], [255, 0.02], [257, 1e-5]],
  [[2, 1e-5], [4, 0.2], [80, 0.1], [150, 0.06], [220, 0.04], [280, 0.025], [295, 0.02], [297, 1e-5]],
  [[3, 1e-5], [5, 0.1], [80, 0.07], [160, 0.05], [240, 0.03], [300, 0.02], [320, 0.015], [330, 0.01], [400, 0.004], [402, 1e-5]],
  [[8, 1e-5], [10, 0.02], [13, 0.0001], [14, 1e-5]],
  [[30, 1e-5], [32, 0.0004], [36, 0.02], [40, 0.0003], [45, 1e-5]],
  [[75, 1e-5], [77, 0.00035], [80, 0.01], [100, 0.008], [120, 0.007], [140, 0.006]],
];
const bUpper = [
  [[450, 1e-5], [455, 0.3], [500, 0.6], [520, 1.5], [570, 3], [600, 2], [650, 1.5], [680, 2.5], [700, 1.5], [750, 1.6], [800, 1.5], [900, 1.4], [1000, 1.5]],
  [[490, 1e-5], [495, 0.4], [530, 2.5], [600, 2.8], [700, 3], [800, 3.3], [900, 2.8], [1000, 2]],
  [[540, 1e-5], [545, 0.13], [1000, 9]],
];

// ---------------- panel (c) CCDF ----------------
const ccdfE = [eMin, 5.9e-6, 5.9e-6, 4.7e-4, 7.1e-4, 1.0e-3, 1.2e-3, 1.37e-3, 1.96e-3, 2.8e-3, 4.0e-3, 5.1e-3, 6.9e-3, 8.7e-3, 9.9e-3, 1.41e-2, 1.7e-2, 2.15e-2, 2.6e-2, 3.3e-2, 4.2e-2, 5.3e-2, 6.3e-2, 8.1e-2, 0.1, 0.1155, 0.147, 0.176, 0.21, 0.25, 0.3, 0.36, 0.43, 0.55, 0.7, 0.89, 1.06, 1.27, 1.62, 2.3, 2.46, 3.7, 10];
const ccdfP = [1.0, 1.0, 0.963, 0.962, 0.949, 0.945, 0.941, 0.929, 0.916, 0.9, 0.886, 0.87, 0.85, 0.842, 0.81, 0.8, 0.77, 0.739, 0.703, 0.68, 0.67, 0.638, 0.597, 0.562, 0.526, 0.501, 0.47, 0.425, 0.374, 0.354, 0.316, 0.278, 0.223, 0.157, 0.116, 0.081, 0.056, 0.035, 0.022, 0.02, 0.008, 0.005, 0.002];
const pctLevels = [0.95, 0.5, 0.05];
const pctDoses = [6.9e-4, 0.115, 1.13];
const meanDose = 0.3;
const meanProb = 0.317;
const meanArrow = [[0.52, 0.4], [0.35, 0.333]];

// ---------------- panel (d) statistics: [time kyr, dose] ----------------
const d95 = [[0.5, 0.0001], [2, 0.3], [5, 0.9], [8, 1.1], [12, 1.5], [16, 1.3], [22, 1.1], [30, 1.2], [40, 1.05], [50, 1.2], [62, 1.4], [70, 1.3], [78, 1.5], [85, 1.1], [92, 1.3], [97, 1.6], [105, 1.4], [117, 1.3], [125, 1.1], [129, 1.0], [135, 1.5], [149, 1.5], [155, 1.8], [162, 2.0], [169, 1.9], [180, 2.3], [186, 3.5], [192, 5.1], [198, 4.8], [204, 5.5], [212, 7.6], [218, 8.0], [224, 7.8], [232, 7.0], [244, 6.3], [256, 4.8], [268, 3.2], [279, 2.0], [291, 1.4], [303, 1.1], [317, 1.0], [325, 1.1], [335, 1.25], [343, 1.05], [355, 0.95], [366, 1.0], [378, 1.1], [394, 1.0], [410, 1.05], [418, 1.1], [430, 1.08], [442, 1.05], [458, 0.93], [466, 1.0], [473, 1.1], [485, 1.08], [497, 1.1], [509, 1.35], [525, 1.4], [545, 1.45], [565, 1.45], [584, 1.5], [604, 1.45], [624, 1.55], [640, 1.6], [655, 1.7], [670, 1.6], [691, 1.55], [702, 1.7], [711, 1.95], [730, 2.0], [750, 2.0], [770, 1.9], [798, 1.9], [815, 1.85], [830, 1.9], [845, 2.0], [861, 2.1], [885, 2.05], [909, 2.1], [925, 2.15], [940, 2.2], [956, 2.2], [972, 2.3], [985, 2.2], [992, 2.2], [1000, 2.6]];
const dMean = [[0.5, 0.00001], [3, 0.1], [6, 0.2], [9, 0.3], [12, 0.4], [14, 0.51], [17, 0.38], [24, 0.34], [30, 0.35], [38, 0.33], [46, 0.37], [52, 0.42], [58, 0.45], [63, 0.38], [68, 0.55], [73, 0.36], [80, 0.42], [88, 0.45], [94, 0.65], [100, 0.55], [105, 0.47], [112, 0.37], [118, 0.35], [125, 0.4], [131, 0.38], [137, 0.37], [143, 0.42], [149, 0.48], [157, 0.47], [165, 0.5], [172, 0.56], [180, 0.65], [186, 0.72], [192, 0.78], [200, 0.74], [206, 0.95], [212, 1.2], [218, 1.35], [222, 1.45], [227, 1.35], [232, 1.25], [238, 1.2], [244, 1.15], [250, 1.0], [256, 0.86], [262, 0.72], [268, 0.6], [274, 0.47], [279, 0.39], [286, 0.32], [291, 0.29], [298, 0.28], [306, 0.27], [314, 0.25], [323, 0.26], [330, 0.27], [335, 0.33], [341, 0.29], [347, 0.27], [355, 0.25], [362, 0.24], [370, 0.25], [378, 0.26], [386, 0.255], [398, 0.25], [410, 0.26], [422, 0.27], [434, 0.27], [446, 0.265], [458, 0.27], [470, 0.28], [481, 0.3], [490, 0.29], [497, 0.3], [503, 0.33], [509, 0.38], [518, 0.42], [529, 0.43], [545, 0.44], [560, 0.45], [576, 0.45], [592, 0.46], [608, 0.44], [624, 0.45], [640, 0.47], [655, 0.49], [670, 0.48], [685, 0.47], [695, 0.48], [703, 0.54], [711, 0.61], [727, 0.63], [742, 0.65], [762, 0.65], [782, 0.66], [802, 0.67], [822, 0.69], [841, 0.71], [861, 0.73], [881, 0.75], [901, 0.77], [920, 0.8], [940, 0.83], [960, 0.86], [980, 0.9], [1000, 0.96]];
const dMedian = [[3, 0.00001], [5, 0.0001], [6.5, 0.05], [8, 0.12], [11, 0.16], [15, 0.14], [22, 0.12], [28, 0.11], [34, 0.115], [40, 0.12], [46, 0.13], [54, 0.145], [62, 0.16], [70, 0.155], [78, 0.15], [86, 0.15], [94, 0.155], [101, 0.15], [109, 0.145], [117, 0.14], [125, 0.14], [135, 0.13], [145, 0.125], [155, 0.12], [165, 0.12], [175, 0.115], [184, 0.11], [192, 0.112], [200, 0.11], [210, 0.105], [220, 0.1], [228, 0.095], [236, 0.09], [248, 0.088], [260, 0.085], [268, 0.08], [275, 0.075], [283, 0.068], [290, 0.06], [295, 0.052], [300, 0.056], [306, 0.06], [316, 0.062], [327, 0.065], [336, 0.068], [346, 0.075], [358, 0.072], [370, 0.072], [382, 0.075], [394, 0.077], [406, 0.078], [418, 0.08], [430, 0.085], [442, 0.088], [454, 0.09], [465, 0.093], [477, 0.095], [489, 0.095], [497, 0.11], [503, 0.14], [509, 0.17], [519, 0.18], [529, 0.19], [541, 0.2], [553, 0.21], [565, 0.215], [576, 0.22], [592, 0.225], [608, 0.23], [624, 0.235], [640, 0.24], [655, 0.245], [671, 0.25], [683, 0.26], [695, 0.27], [701, 0.29], [707, 0.31], [717, 0.33], [727, 0.34], [738, 0.36], [750, 0.38], [766, 0.39], [782, 0.4], [802, 0.4], [822, 0.4], [841, 0.39], [861, 0.38], [881, 0.375], [901, 0.37], [921, 0.365], [940, 0.36], [960, 0.35], [980, 0.34], [1000, 0.35]];
const d5 = [[460, 0.00001], [463, 0.0001], [465, 0.00017], [468, 0.0003], [471, 0.00054], [476, 0.00062], [481, 0.00065], [487, 0.0006], [493, 0.00062], [498, 0.0008], [503, 0.001], [512, 0.0011], [521, 0.0012], [527, 0.0014], [533, 0.0016], [539, 0.0018], [545, 0.0021], [551, 0.0028], [557, 0.0035], [565, 0.0034], [572, 0.0033], [580, 0.003], [588, 0.0028], [596, 0.0026], [606, 0.0028], [616, 0.0029], [624, 0.0032], [632, 0.0036], [643, 0.0034], [655, 0.0033], [663, 0.0037], [671, 0.0041], [679, 0.0044], [687, 0.0046], [699, 0.0049], [703, 0.006], [707, 0.0073], [711, 0.009], [715, 0.0115], [719, 0.0095], [723, 0.0082], [729, 0.0085], [735, 0.009], [741, 0.0088], [747, 0.0095], [751, 0.012], [754, 0.015], [760, 0.013], [766, 0.012], [772, 0.0135], [778, 0.0145], [788, 0.016], [798, 0.017], [806, 0.019], [814, 0.02], [822, 0.02], [830, 0.021], [840, 0.024], [850, 0.026], [858, 0.029], [865, 0.033], [871, 0.029], [877, 0.027], [889, 0.029], [901, 0.031], [913, 0.036], [925, 0.042], [940, 0.042], [956, 0.041], [966, 0.044], [976, 0.049], [984, 0.047], [992, 0.046], [1000, 0.044]];
const dNames = ['95th Percentile', 'Mean', 'Median', '5th Percentile'];
const dColors = ['#13891b', '#ff1414', '#1f6ff0', '#f29a12'];

// ---------------- helpers ----------------
type Pt = { t: number; v: number };
const toPts = (arr: number[][]): Pt[] => arr.map(([k, v]) => ({ t: k * 1000, v }));

const fileLine1 = 'LA_v5.000_SM_009000_000.gsm';
const fileLine2 = 'LA_v5.000_SM_009000_000_exdose_horsetails_stats_CCDF_REV00.JNB';

function TimeTick(props: any) {
  const { x, y, payload } = props;
  return (
    <g>
      <line x1={x} y1={y} x2={x} y2={y + 6} stroke="#000" strokeWidth={1.5} />
      <text x={x} y={y + 29} textAnchor="middle" fontSize={TICK_FS} fontFamily={FONT} fill="#000">
        {String(payload.value)}
      </text>
    </g>
  );
}

function PowYTick(props: any) {
  const { x, y, payload } = props;
  const e = Math.round(Math.log10(payload.value));
  return (
    <g>
      <line x1={x - 6} y1={y} x2={x} y2={y} stroke="#000" strokeWidth={1.5} />
      <text x={x - 24} y={y + 5} textAnchor="end" fontSize={TICK_FS} fontFamily={FONT} fill="#000">10</text>
      <text x={x - 23.5} y={y - 1.5} textAnchor="start" fontSize={10.5} fontFamily={FONT} fill="#000">{e}</text>
    </g>
  );
}

function PowXTick(props: any) {
  const { x, y, payload } = props;
  if (payload.value === eZero) {
    return (
      <text x={x} y={y + 29} textAnchor="middle" fontSize={TICK_FS} fontFamily={FONT} fill="#000">0</text>
    );
  }
  const e = Math.round(Math.log10(payload.value));
  return (
    <g>
      <line x1={x} y1={y} x2={x} y2={y + 6} stroke="#000" strokeWidth={1.5} />
      <text x={x} y={y + 29} textAnchor="middle" fontSize={TICK_FS} fontFamily={FONT} fill="#000">
        <tspan>10</tspan>
        <tspan dy={-6.5} fontSize={10.5}>{e}</tspan>
      </text>
    </g>
  );
}

function ProbTick(props: any) {
  const { x, y, payload } = props;
  return (
    <g>
      <line x1={x - 7} y1={y} x2={x} y2={y} stroke="#000" strokeWidth={1.5} />
      <text x={x - 16} y={y + 5} textAnchor="end" fontSize={TICK_FS} fontFamily={FONT} fill="#000">
        {Number(payload.value).toFixed(1)}
      </text>
    </g>
  );
}

// inward tick marks on all four sides, drawn from reference lines through each tick value
const vTick = (len: number) => (p: any) => {
  const top = Math.min(p.y1, p.y2);
  const bot = Math.max(p.y1, p.y2);
  return (
    <g>
      <line x1={p.x1} y1={top} x2={p.x1} y2={top + len} stroke="#000" strokeWidth={1.2} />
      <line x1={p.x1} y1={bot} x2={p.x1} y2={bot - len} stroke="#000" strokeWidth={1.2} />
    </g>
  );
};
const hTick = (len: number) => (p: any) => {
  const l = Math.min(p.x1, p.x2);
  const r = Math.max(p.x1, p.x2);
  return (
    <g>
      <line x1={l} y1={p.y1} x2={l + len} y2={p.y1} stroke="#000" strokeWidth={1.2} />
      <line x1={r} y1={p.y1} x2={r - len} y2={p.y1} stroke="#000" strokeWidth={1.2} />
    </g>
  );
};

function tickMarks(xMajor: number[], xMinor: number[], yMajor: number[], yMinor: number[]) {
  return [
    ...xMajor.map((v) => <ReferenceLine key={'txM' + v} x={v} ifOverflow="visible" shape={vTick(7)} />),
    ...xMinor.map((v) => <ReferenceLine key={'txm' + v} x={v} ifOverflow="visible" shape={vTick(4.5)} />),
    ...yMajor.map((v) => <ReferenceLine key={'tyM' + v} y={v} ifOverflow="visible" shape={hTick(6)} />),
    ...yMinor.map((v) => <ReferenceLine key={'tym' + v} y={v} ifOverflow="visible" shape={hTick(4.5)} />),
  ];
}

function timeDoseAxes() {
  return [
    <XAxis key="mx" type="number" dataKey="t" domain={[0, 1000000]} allowDataOverflow ticks={timeTicks} interval={0}
      tickLine={false} tickSize={0} tickMargin={0} tick={(p: any) => <TimeTick {...p} />} axisLine={AX} height={30} />,
    <YAxis key="my" type="number" scale="log" domain={[1e-4, 100]} allowDataOverflow ticks={doseTicks} interval={0}
      tickLine={false} tickSize={0} tickMargin={0} tick={(p: any) => <PowYTick {...p} />} axisLine={AX} width={60} />,
  ];
}

function timeDoseGrid() {
  return [
    ...timeGrid.map((t) => <ReferenceLine key={'gx' + t} x={t} stroke={GRID} strokeWidth={1} ifOverflow="hidden" />),
    ...doseGrid.map((v) => <ReferenceLine key={'gy' + v} y={v} stroke={GRID} strokeWidth={1} ifOverflow="hidden" />),
  ];
}

function timeDoseFrame() {
  return [
    ...tickMarks(timeTicks, timeMinor, doseTicks, doseMinor),
    <ReferenceLine key="frR" x={1000000} stroke="#000" strokeWidth={2} ifOverflow="visible" />,
    <ReferenceLine key="frT" y={100} stroke="#000" strokeWidth={2} ifOverflow="visible" />,
  ];
}

function Horsetails({ groups, width, height, margin }: { groups: number[][][][]; width: number; height: number; margin: any }) {
  const lines = groups.flat().map(toPts);
  return (
    <LineChart width={width} height={height} margin={margin}>
      {timeDoseAxes()}
      {lines.map((pts, i) => (
        <Line key={i} data={pts} dataKey="v" type="linear" stroke={HORSE} strokeWidth={1} dot={false} activeDot={false} isAnimationActive={false} />
      ))}
      {timeDoseGrid()}
      {timeDoseFrame()}
    </LineChart>
  );
}

function ArrowShape(p: any) {
  const { x1, y1, x2, y2 } = p;
  const ang = Math.atan2(y2 - y1, x2 - x1);
  const L = 9;
  const W = 3.5;
  const bx = x2 - L * Math.cos(ang);
  const by = y2 - L * Math.sin(ang);
  const px = -Math.sin(ang) * W;
  const py = Math.cos(ang) * W;
  return (
    <g>
      <line x1={x1} y1={y1} x2={bx} y2={by} stroke="#000" strokeWidth={1.5} />
      <polygon points={`${x2},${y2} ${bx + px},${by + py} ${bx - px},${by - py}`} fill="#000" />
    </g>
  );
}

function CcdfPanel() {
  const pts = ccdfE.map((e, i) => ({ e, p: ccdfP[i] }));
  return (
    <LineChart width={620} height={507} margin={{ top: 74, right: 14.5, bottom: 39.7, left: 28.3 }}>
      <XAxis type="number" dataKey="e" scale="log" domain={[eMin, 10]} allowDataOverflow ticks={eTicks} interval={0}
        tickLine={false} tickSize={0} tickMargin={0} tick={(p: any) => <PowXTick {...p} />} axisLine={AX} height={30} />
      <YAxis type="number" domain={[-0.05, 1.05]} allowDataOverflow ticks={probTicks} interval={0}
        tickLine={false} tickSize={0} tickMargin={0} tick={(p: any) => <ProbTick {...p} />} axisLine={AX} width={60} />
      {eGrid.map((e) => <ReferenceLine key={'ge' + e} x={e} stroke={GRID} strokeWidth={1} ifOverflow="hidden" />)}
      {probTicks.map((p) => (
        <ReferenceLine key={'gpa' + p} segment={[{ x: eMin, y: p }, { x: eGapLeft, y: p }]} stroke={GRID} strokeWidth={1} ifOverflow="hidden" />
      ))}
      {probTicks.map((p) => (
        <ReferenceLine key={'gpb' + p} segment={[{ x: eGapRight, y: p }, { x: 10, y: p }]} stroke={GRID} strokeWidth={1} ifOverflow="hidden" />
      ))}
      {pctLevels.map((lv, i) => (
        <ReferenceLine key={'ph' + i} segment={[{ x: eMin, y: lv }, { x: pctDoses[i], y: lv }]} stroke="#000" strokeWidth={1} ifOverflow="hidden" />
      ))}
      {pctLevels.map((lv, i) => (
        <ReferenceLine key={'pv' + i} segment={[{ x: pctDoses[i], y: lv }, { x: pctDoses[i], y: -0.05 }]} stroke="#000" strokeWidth={1} ifOverflow="hidden" />
      ))}
      <Line data={pts} dataKey="p" type="linear" stroke="#000" strokeWidth={2.2} dot={false} activeDot={false} isAnimationActive={false} />
      <ReferenceLine segment={[{ x: meanArrow[0][0], y: meanArrow[0][1] }, { x: meanArrow[1][0], y: meanArrow[1][1] }]} ifOverflow="visible" shape={(p: any) => <ArrowShape {...p} />} />
      <ReferenceDot x={meanDose} y={meanProb} r={4.6} fill="#ff0000" stroke="none" ifOverflow="visible" />
      {tickMarks(eMajor, eMinor, probTicks, probMinor)}
      <ReferenceLine key="frR" x={10} stroke="#000" strokeWidth={2} ifOverflow="visible" />
      <ReferenceLine key="frT1" segment={[{ x: eMin, y: 1.05 }, { x: eAxisGap[0], y: 1.05 }]} stroke="#000" strokeWidth={2} ifOverflow="visible" />
      <ReferenceLine key="frT2" segment={[{ x: eAxisGap[1], y: 1.05 }, { x: 10, y: 1.05 }]} stroke="#000" strokeWidth={2} ifOverflow="visible" />
      <ReferenceLine key="gapB" segment={[{ x: eAxisGap[0], y: -0.05 }, { x: eAxisGap[1], y: -0.05 }]} stroke="#fff" strokeWidth={4} ifOverflow="visible" />
      {breakSlashes.map((s, i) => (
        <ReferenceLine key={'sl' + i} segment={[{ x: s[0], y: s[1] }, { x: s[2], y: s[3] }]} stroke="#000" strokeWidth={1.2} ifOverflow="visible" />
      ))}
    </LineChart>
  );
}

function renderStatsLegend() {
  return (
    <div style={{ width: 159, height: 92, border: '1.5px solid #222', background: '#fff', boxSizing: 'border-box', padding: '8px 0 0 8px', fontFamily: FONT, fontSize: 14.5, color: '#000' }}>
      {dNames.map((n, i) => (
        <div key={n} style={{ display: 'flex', alignItems: 'center', height: 18.6 }}>
          <span style={{ display: 'inline-block', width: 34, height: 2.5, background: dColors[i], marginRight: 8 }} />
          <span style={{ lineHeight: 1 }}>{n}</span>
        </div>
      ))}
    </div>
  );
}

function StatsPanel() {
  const series = [d95, dMean, dMedian, d5].map(toPts);
  return (
    <LineChart width={626} height={507} margin={{ top: 85, right: 37.5, bottom: 39, left: 24.3 }}>
      {timeDoseAxes()}
      {timeDoseGrid()}
      {series.map((pts, i) => (
        <Line key={dNames[i]} name={dNames[i]} data={pts} dataKey="v" type="linear" stroke={dColors[i]} strokeWidth={2} dot={false} activeDot={false} isAnimationActive={false} />
      ))}
      {timeDoseFrame()}
      <Legend layout="vertical" align="center" verticalAlign="middle" content={renderStatsLegend}
        wrapperStyle={{ left: 106, top: 322, width: 160, height: 93 }} />
    </LineChart>
  );
}

function Txt({ x, y, size = 17, align = 'center', rotate = false, children }: any) {
  const tx = align === 'center' ? '-50%' : align === 'right' ? '-100%' : '0';
  return (
    <div style={{ position: 'absolute', left: x, top: y, transform: `translate(${tx}, -50%)${rotate ? ' rotate(-90deg)' : ''}`, fontSize: size, whiteSpace: 'nowrap', lineHeight: 1, fontFamily: FONT, color: '#000' }}>
      {children}
    </div>
  );
}

function FileTitle({ right, y1, y2 }: { right: number; y1: number; y2: number }) {
  return (
    <>
      <Txt x={right} y={y1} size={12} align="right">{fileLine1}</Txt>
      <Txt x={right} y={y2} size={12} align="right">{fileLine2}</Txt>
    </>
  );
}

export default function App() {
  return (
    <div style={{ position: 'absolute', left: 0, top: 0, width: 1251, height: 1007, background: '#fff', overflow: 'hidden', fontFamily: FONT }}>
      <div style={{ position: 'absolute', left: 0, top: 0 }}>
        <Horsetails groups={[aBand, aWavy, aJagged, aExtra, aLow, aDrops, aLate, aRising, aPeaks]} width={620} height={500} margin={{ top: 71, right: 30, bottom: 45, left: 25 }} />
      </div>
      <div style={{ position: 'absolute', left: 625, top: 0 }}>
        <Horsetails groups={[bEarly, bLow, bDrops, bUpper, bHumps]} width={626} height={500} margin={{ top: 71.5, right: 37.7, bottom: 45, left: 22 }} />
      </div>
      <div style={{ position: 'absolute', left: 0, top: 500 }}>
        <CcdfPanel />
      </div>
      <div style={{ position: 'absolute', left: 625, top: 500 }}>
        <StatsPanel />
      </div>

      <Txt x={12} y={18} size={20} align="left">(a)</Txt>
      <Txt x={684} y={18} size={20} align="left">(b)</Txt>
      <Txt x={12} y={507} size={20} align="left">(c)</Txt>
      <Txt x={684} y={507} size={20} align="left">(d)</Txt>

      <FileTitle right={585} y1={47} y2={61} />
      <FileTitle right={1205} y1={47} y2={61} />
      <FileTitle right={588} y1={547} y2={562} />
      <FileTitle right={1206} y1={562} y2={577} />

      <Txt x={338} y={480} size={17}>Time (yrs)</Txt>
      <Txt x={960} y={480} size={17}>Time (yrs)</Txt>
      <Txt x={960} y={992} size={17}>Time (yrs)</Txt>
      <Txt x={318} y={995} size={17}>
        E: Expected dose to RMEI at 5x10<sup style={{ fontSize: 11, verticalAlign: 'top', position: 'relative', top: -3 }}>5</sup> yrs (mrem/yr)
      </Txt>
      <Txt x={23} y={248} size={17} rotate>Expected Dose to RMEI (mrem/yr)</Txt>
      <Txt x={646} y={248} size={17} rotate>Expected Dose to RMEI (mrem/yr)</Txt>
      <Txt x={23} y={757} size={17} rotate>Prob (Expected Dose &gt; E)</Txt>
      <Txt x={646} y={762} size={17} rotate>Expected Dose to RMEI (mrem/yr)</Txt>

      <Txt x={108} y={618} size={14.5} align="left">5th</Txt>
      <Txt x={102} y={745} size={14.5} align="left">Median</Txt>
      <Txt x={112} y={893} size={14.5} align="left">95th</Txt>
      <Txt x={492} y={778} size={14.5} align="left">Mean</Txt>
    </div>
  );
}
